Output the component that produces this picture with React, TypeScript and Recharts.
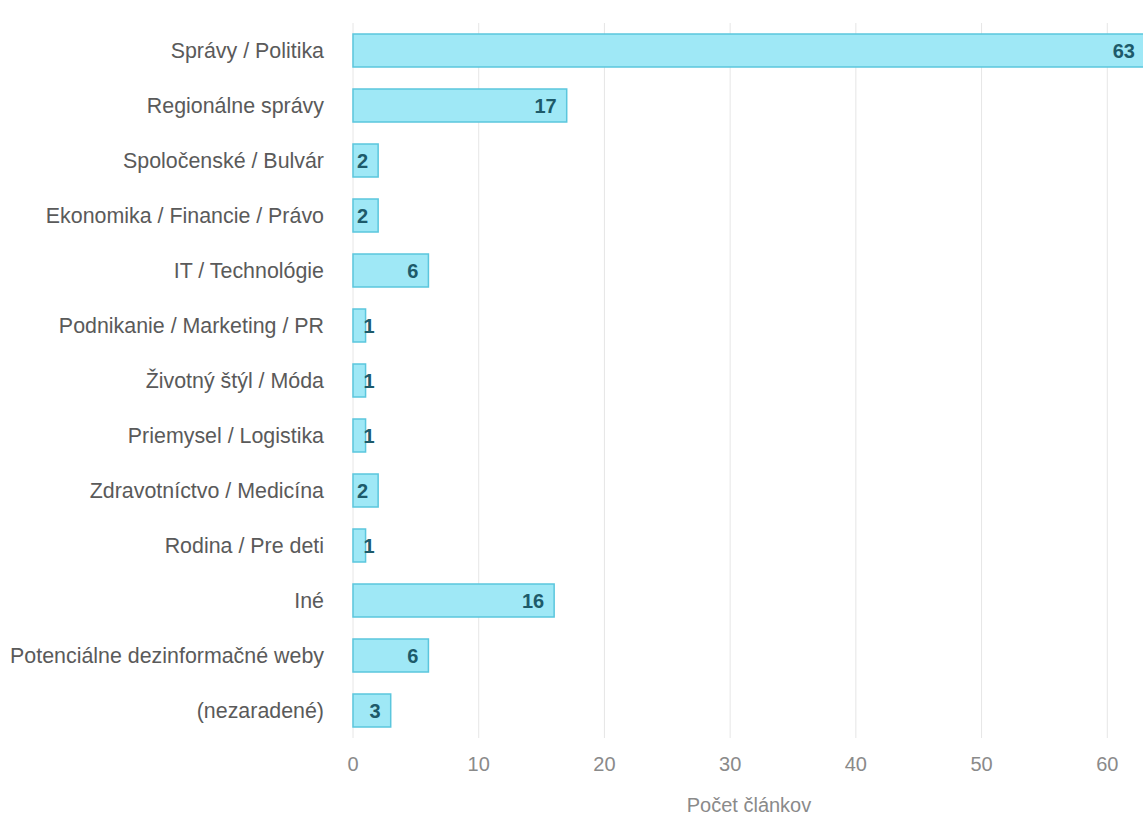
import React from "react";
import {
  BarChart,
  Bar,
  XAxis,
  YAxis,
  CartesianGrid,
  LabelList,
} from "recharts";

// categories (top to bottom) and article counts
const categories = [
  "Správy / Politika",
  "Regionálne správy",
  "Spoločenské / Bulvár",
  "Ekonomika / Financie / Právo",
  "IT / Technológie",
  "Podnikanie / Marketing / PR",
  "Životný štýl / Móda",
  "Priemysel / Logistika",
  "Zdravotníctvo / Medicína",
  "Rodina / Pre deti",
  "Iné",
  "Potenciálne dezinformačné weby",
  "(nezaradené)",
];

const counts = [63, 17, 2, 2, 6, 1, 1, 1, 2, 1, 16, 6, 3];

const xTicks = [0, 10, 20, 30, 40, 50, 60];

const data = categories.map((name, i) => ({ name, count: counts[i] }));

const FONT = '"Liberation Sans", Arial, Helvetica, sans-serif';

// value label sits inside the bar end; tiny bars get it pushed past the edge
const renderLabel = (props: any) => {
  const { x, y, width, height, value } = props;
  const small = width < 20;
  return (
    <text
      x={small ? x + width - 2 : x + width - 10}
      y={y + height / 2}
      dy="0.36em"
      textAnchor={small ? "start" : "end"}
      fill="#1d5a6a"
      fontWeight="bold"
      fontSize={20}
      fontFamily={FONT}
    >
      {value}
    </text>
  );
};

export default function App() {
  return (
    <div
      style={{
        position: "absolute",
        left: 0,
        top: 0,
        width: 1143,
        height: 817,
        overflow: "hidden",
        background: "#fff",
      }}
    >
      <BarChart
        width={1145}
        height={817}
        data={data}
        layout="vertical"
        margin={{ top: 23, right: 0, bottom: 0, left: 0 }}
        style={{ fontFamily: FONT }}
      >
        <CartesianGrid horizontal={false} stroke="#e6e6e6" />
        <XAxis
          type="number"
          domain={[0, 63]}
          ticks={xTicks}
          axisLine={false}
          tickLine={false}
          tickMargin={13}
          height={79}
          tick={{ fill: "#8a8a8a", fontSize: 20 }}
          label={{
            value: "Počet článkov",
            position: "insideBottom",
            offset: 5,
            fill: "#8a8a8a",
            fontSize: 20,
          }}
        />
        <YAxis
          type="category"
          dataKey="name"
          width={353}
          axisLine={false}
          tickLine={false}
          tickMargin={23}
          interval={0}
          tick={{ fill: "#5a5a5a", fontSize: 21.4 }}
        />
        <Bar
          dataKey="count"
          fill="#9fe8f6"
          stroke="#5bc6dd"
          strokeWidth={1.5}
          barSize={33}
          isAnimationActive={false}
        >
          <LabelList dataKey="count" content={renderLabel} />
        </Bar>
      </BarChart>
    </div>
  );
}
